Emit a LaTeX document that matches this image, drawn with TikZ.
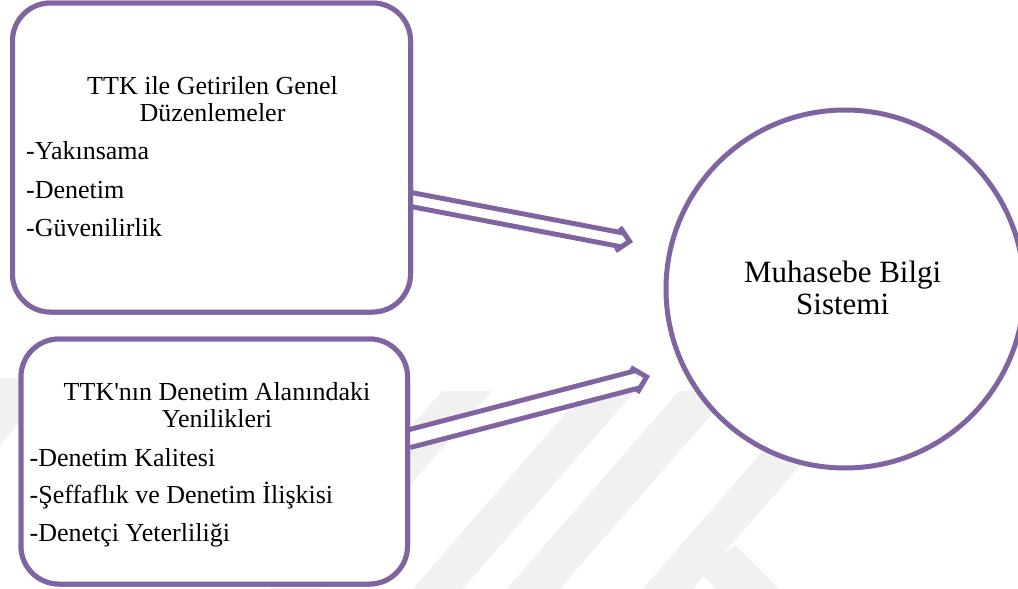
\documentclass[tikz,border=0pt]{standalone}
\usepackage{fontspec}
\setmainfont{Liberation Serif}
\usetikzlibrary{calc}
\definecolor{accent}{HTML}{8064A2}
\definecolor{wmark}{HTML}{F1F1F1}

\begin{document}
\begin{tikzpicture}[x=1pt,y=-1pt,
  panel/.style={draw=accent, line width=5pt, fill=white, rounded corners=38pt, inner sep=0pt},
  hub/.style={circle, draw=accent, line width=5pt, fill=white, inner sep=0pt, minimum size=358pt},
  txt/.style={inner sep=0pt, font=\fontsize{26}{28}\selectfont},
  bigtxt/.style={inner sep=0pt, font=\fontsize{31}{33}\selectfont},
  shaft/.style={draw=accent, line width=5pt, double=white},
  head/.style={draw=accent, line width=5pt, line join=miter},
  wm/.style={fill=wmark, draw=none}]

\useasboundingbox (0,0) rectangle (1018,589);
\clip (0,0) rectangle (1018,589);

% faint background stripes
\fill[wm] (0,378) -- (20,378) -- (20,422) -- (0,445) -- cycle;
\fill[wm] (442,391) -- (492,391) -- (317,592) -- (267,592) -- cycle;
\fill[wm] (585,391) -- (635,391) -- (460,592) -- (410,592) -- cycle;
\fill[wm] (679,391) -- (732,391) -- (557,592) -- (504,592) -- cycle;
\fill[wm] (815,391) -- (865,391) -- (690,592) -- (640,592) -- cycle;
\fill[wm] (700,573) -- (735,545) -- (795,605) -- (732,605) -- cycle;

% panels
\node[panel, minimum width=398pt, minimum height=309pt] (box1) at (211.5,157.5) {};
\node[panel, minimum width=386.5pt, minimum height=245pt] (box2) at (214.25,461.5) {};

% connector anchors
\coordinate (a1s) at ($(box1.east)+(-2,42)$);
\coordinate (a1e) at (629.6,241.3);
\coordinate (a2s) at ($(box2.east)+(-2,-22.5)$);
\coordinate (a2e) at (646.6,376.9);

% hollow arrows
\draw[shaft, double distance=8.8pt] (a1s) -- ($(a1e)!7pt!(a1s)$);
\draw[head] ($(a1e)!12pt!(a1s)!12pt!90:(a1e)$) -- (a1e) -- ($(a1e)!12pt!(a1s)!12pt!-90:(a1e)$);
\draw[shaft, double distance=12.5pt] (a2s) -- ($(a2e)!9pt!(a2s)$);
\draw[head] ($(a2e)!13pt!(a2s)!13pt!90:(a2e)$) -- (a2e) -- ($(a2e)!13pt!(a2s)!13pt!-90:(a2e)$);

% panels again, above the arrow ends, and the hub
\node[panel, minimum width=398pt, minimum height=309pt] (box1f) at (211.5,157.5) {};
\node[panel, minimum width=386.5pt, minimum height=245pt] (box2f) at (214.25,461.5) {};
\node[hub] (hub) at (845,289) {};

% first panel text
\node[txt, anchor=base] (h1a) at (212.5,94.3) {TTK ile Getirilen Genel};
\node[txt, anchor=base] (h1b) at (212.5,121.7) {Düzenlemeler};
\node[txt, anchor=base west] (i1a) at (26,159) {-Yakınsama};
\node[txt, anchor=base west] (i1b) at (26,198) {-Denetim};
\node[txt, anchor=base west] (i1c) at (26,236.5) {-Güvenilirlik};

% second panel text
\node[txt, anchor=base] (h2a) at (217,400.8) {TTK\textquotesingle nın Denetim Alanındaki};
\node[txt, anchor=base] (h2b) at (217,427) {Yenilikleri};
\node[txt, anchor=base west] (i2a) at (29.5,466.5) {-Denetim Kalitesi};
\node[txt, anchor=base west] (i2b) at (29.5,503.3) {-Şeffaflık ve Denetim İlişkisi};
\node[txt, anchor=base west] (i2c) at (29.5,541) {-Denetçi Yeterliliği};

% hub text
\node[bigtxt, anchor=base] (hubA) at (842.7,282.5) {Muhasebe Bilgi};
\node[bigtxt, anchor=base] (hubB) at (842.7,314) {Sistemi};
\end{tikzpicture}
\end{document}
